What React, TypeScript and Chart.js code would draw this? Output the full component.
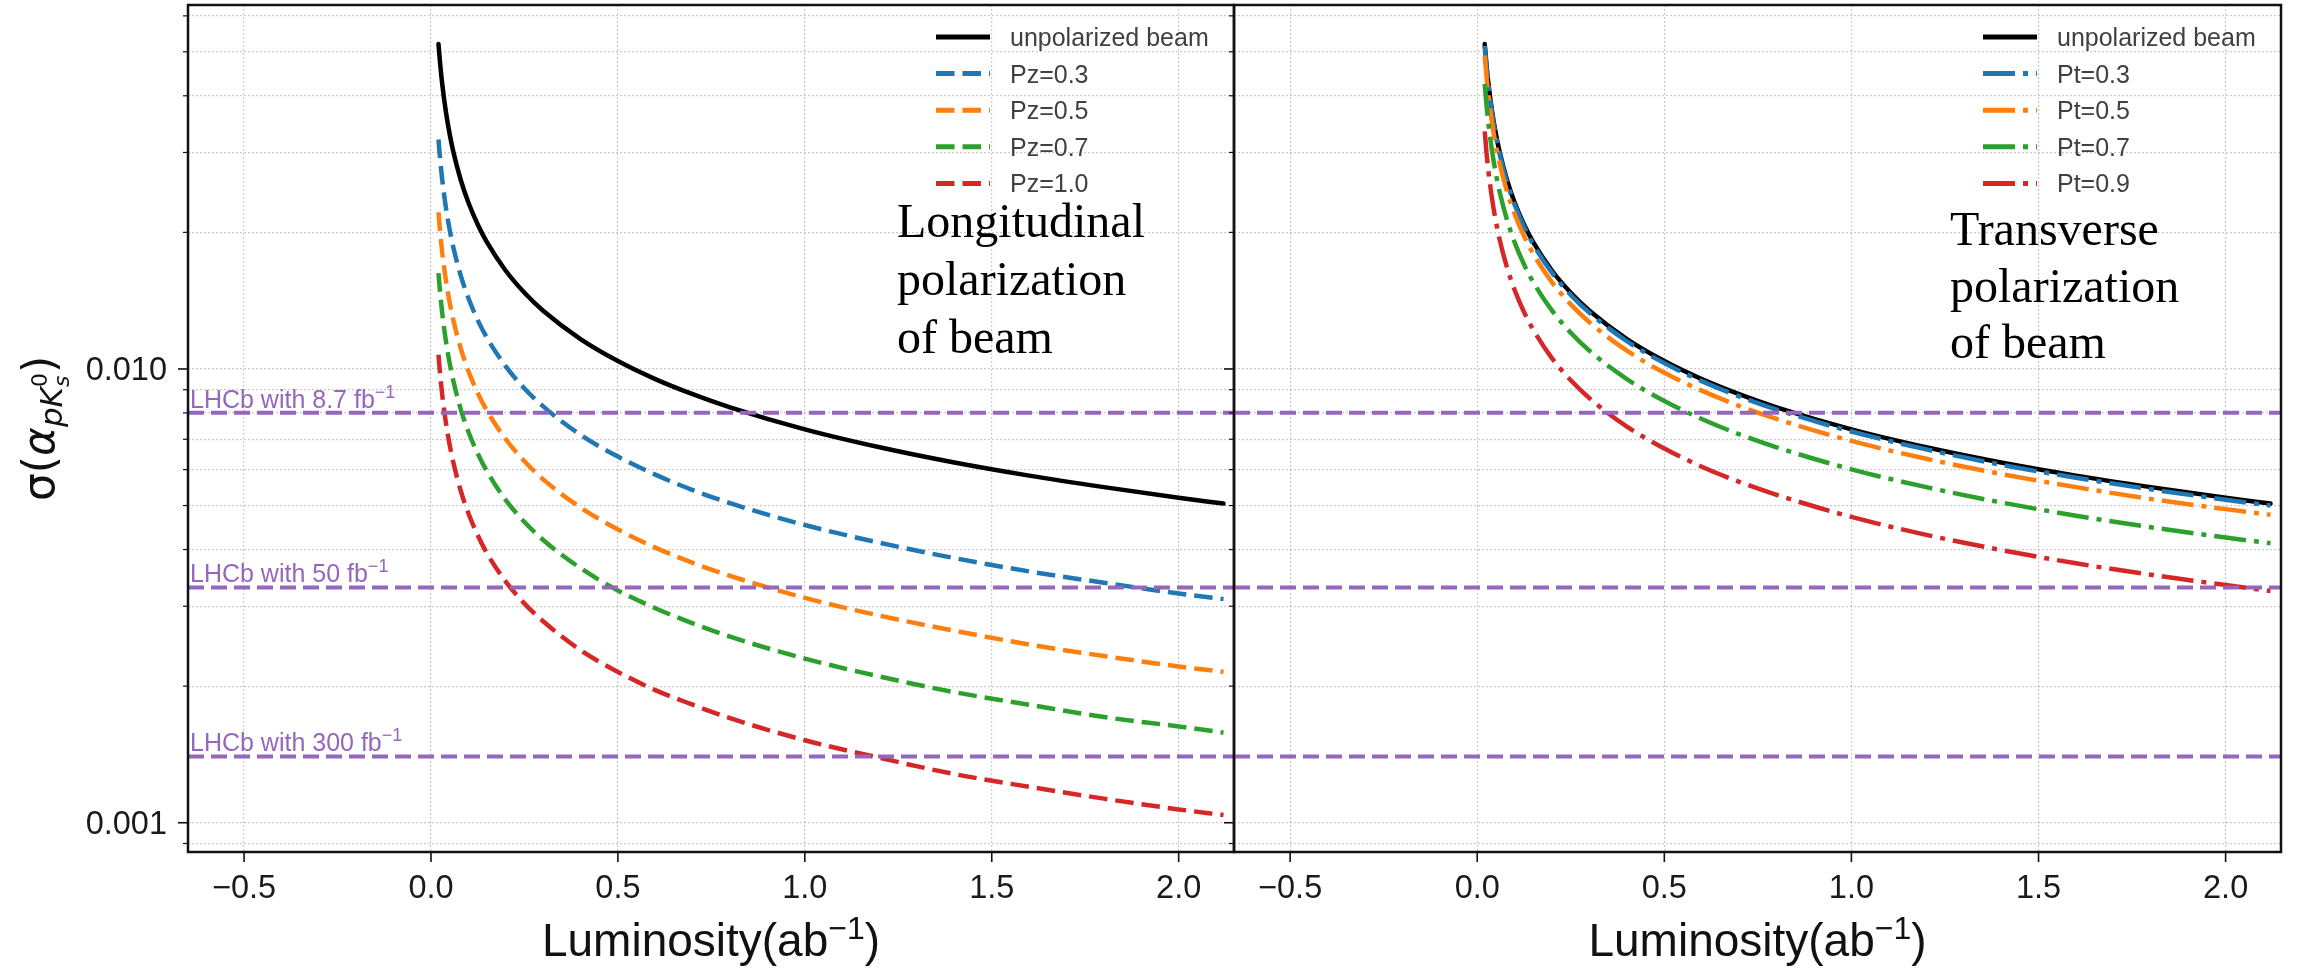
import React, { useEffect, useRef } from "react";
import { Chart, registerables } from "chart.js";

Chart.register(...registerables);

// ---------------- data ----------------
const luminosity = [0.02, 0.025, 0.03, 0.04, 0.05, 0.06, 0.08, 0.1, 0.125, 0.15, 0.2, 0.25, 0.3, 0.4, 0.5, 0.6, 0.7, 0.8, 1.0, 1.2, 1.4, 1.6, 1.8, 2.0, 2.12];

const unpolarized = [0.052, 0.04655, 0.04249, 0.0368, 0.03291, 0.03005, 0.02602, 0.02327, 0.02082, 0.019, 0.01646, 0.01472, 0.01344, 0.01164, 0.01041, 0.0095, 0.0088, 0.00823, 0.00736, 0.00672, 0.00622, 0.00582, 0.00549, 0.0052, 0.00505];

const pz03 = [0.03203, 0.02865, 0.02615, 0.02265, 0.02026, 0.01849, 0.01602, 0.01433, 0.01281, 0.0117, 0.01013, 0.00906, 0.00827, 0.00716, 0.00641, 0.00585, 0.00541, 0.00506, 0.00453, 0.00414, 0.00383, 0.00358, 0.00338, 0.0032, 0.00311];
const pz05 = [0.02213, 0.0198, 0.01807, 0.01565, 0.014, 0.01278, 0.01107, 0.0099, 0.00885, 0.00808, 0.007, 0.00626, 0.00571, 0.00495, 0.00443, 0.00404, 0.00374, 0.0035, 0.00313, 0.00286, 0.00265, 0.00247, 0.00233, 0.00221, 0.00215];
const pz07 = [0.01626, 0.01455, 0.01328, 0.0115, 0.01029, 0.00939, 0.00813, 0.00727, 0.00651, 0.00594, 0.00514, 0.0046, 0.0042, 0.00364, 0.00325, 0.00297, 0.00275, 0.00257, 0.0023, 0.0021, 0.00194, 0.00182, 0.00171, 0.00163, 0.00158];
const pz10 = [0.01075, 0.00961, 0.00878, 0.0076, 0.0068, 0.00621, 0.00537, 0.00481, 0.0043, 0.00392, 0.0034, 0.00304, 0.00278, 0.0024, 0.00215, 0.00196, 0.00182, 0.0017, 0.00152, 0.00139, 0.00128, 0.0012, 0.00113, 0.00107, 0.00104];

const pt03 = [0.05148, 0.04604, 0.04203, 0.0364, 0.03256, 0.02972, 0.02574, 0.02302, 0.02059, 0.0188, 0.01628, 0.01456, 0.01329, 0.01151, 0.0103, 0.0094, 0.0087, 0.00814, 0.00728, 0.00665, 0.00615, 0.00576, 0.00543, 0.00515, 0.005];
const pt05 = [0.04907, 0.04389, 0.04007, 0.0347, 0.03104, 0.02833, 0.02454, 0.02195, 0.01963, 0.01792, 0.01552, 0.01388, 0.01267, 0.01097, 0.00981, 0.00896, 0.00829, 0.00776, 0.00694, 0.00634, 0.00587, 0.00549, 0.00517, 0.00491, 0.00477];
const pt07 = [0.0425, 0.03801, 0.0347, 0.03005, 0.02688, 0.02454, 0.02125, 0.01901, 0.017, 0.01552, 0.01344, 0.01202, 0.01097, 0.0095, 0.0085, 0.00776, 0.00718, 0.00672, 0.00601, 0.00549, 0.00508, 0.00475, 0.00448, 0.00425, 0.00413];
const pt09 = [0.03338, 0.02985, 0.02725, 0.0236, 0.02111, 0.01927, 0.01669, 0.01493, 0.01335, 0.01219, 0.01055, 0.00944, 0.00862, 0.00746, 0.00668, 0.00609, 0.00564, 0.00528, 0.00472, 0.00431, 0.00399, 0.00373, 0.00352, 0.00334, 0.00324];

const lhcbSigma = [0.00801, 0.0033, 0.0014];
const lhcbLumi = ["8.7", "50", "300"];

const xTicks = [-0.5, 0, 0.5, 1, 1.5, 2];
const xTickLabels = ["\u22120.5", "0.0", "0.5", "1.0", "1.5", "2.0"];
const yGridTicks = [0.0009, 0.001, 0.002, 0.003, 0.004, 0.005, 0.006, 0.007, 0.008, 0.009, 0.01, 0.02, 0.03, 0.04, 0.05, 0.06];
const yLabelTicks = [0.001, 0.01];
const yTickLabels = ["0.001", "0.010"];

const leftLabels = ["unpolarized beam", "Pz=0.3", "Pz=0.5", "Pz=0.7", "Pz=1.0"];
const rightLabels = ["unpolarized beam", "Pt=0.3", "Pt=0.5", "Pt=0.7", "Pt=0.9"];
const leftNote = ["Longitudinal", "polarization", "of beam"];
const rightNote = ["Transverse", "polarization", "of beam"];

const X_MIN = -0.65;
const X_MAX = 2.148;
const Y_MIN = 0.000862;
const Y_MAX = 0.0634;

// ---------------- styles ----------------
const COLORS = ["#000000", "#1f77b4", "#ff7f0e", "#2ca02c", "#d62728"];
const PURPLE = "#9467bd";
const GRID = "rgba(150,150,150,0.5)";
const DASHED = [18.5, 8];
const DASHDOT = [32, 8, 5, 8];
const LW = 4.5;
const SANS = '"DejaVu Sans", sans-serif';
const ARIAL = '"Liberation Sans", Arial, sans-serif';
const SERIF = '"Liberation Serif", "Times New Roman", serif';

type Part = { t: string; font: string; dy?: number; hold?: boolean };

function drawRich(ctx: CanvasRenderingContext2D, parts: Part[], x: number, y: number, align: "left" | "center") {
  const widths = parts.map((p) => {
    ctx.font = p.font;
    return ctx.measureText(p.t).width;
  });
  let total = 0;
  let held = 0;
  parts.forEach((p, i) => {
    if (p.hold) held = widths[i];
    else {
      total += Math.max(widths[i], held);
      held = 0;
    }
  });
  let cx = align === "center" ? x - total / 2 : x;
  held = 0;
  ctx.textAlign = "left";
  ctx.textBaseline = "alphabetic";
  parts.forEach((p, i) => {
    ctx.font = p.font;
    ctx.fillText(p.t, cx, y + (p.dy || 0));
    if (p.hold) held = widths[i];
    else {
      cx += Math.max(widths[i], held);
      held = 0;
    }
  });
}

type PanelSpec = {
  series: number[][];
  labels: string[];
  dash: number[];
  note: string[];
  noteDx: number;
  noteBase: number[];
  showYLabels: boolean;
  yAxisWidth: number;
  padRight: number;
};

const leftSpec: PanelSpec = {
  series: [unpolarized, pz03, pz05, pz07, pz10],
  labels: leftLabels,
  dash: DASHED,
  note: leftNote,
  noteDx: 709,
  noteBase: [232, 290, 348],
  showYLabels: true,
  yAxisWidth: 188,
  padRight: 6,
};

const rightSpec: PanelSpec = {
  series: [unpolarized, pt03, pt05, pt07, pt09],
  labels: rightLabels,
  dash: DASHDOT,
  note: rightNote,
  noteDx: 716,
  noteBase: [240, 297, 353],
  showYLabels: false,
  yAxisWidth: 10,
  padRight: 21,
};

function overlay(spec: PanelSpec) {
  return {
    id: "overlay",
    afterDraw(chart: any) {
      const ctx: CanvasRenderingContext2D = chart.ctx;
      const a = chart.chartArea;
      const xs = chart.scales.x;
      const ys = chart.scales.y;
      ctx.save();
      ctx.setLineDash([]);
      ctx.strokeStyle = "#111";
      ctx.lineWidth = 2.5;
      ctx.strokeRect(a.left, a.top, a.right - a.left, a.bottom - a.top);

      // x ticks + labels
      ctx.fillStyle = "#1a1a1a";
      xTicks.forEach((v, i) => {
        const px = xs.getPixelForValue(v);
        ctx.lineWidth = 1.6;
        ctx.beginPath();
        ctx.moveTo(px, a.bottom);
        ctx.lineTo(px, a.bottom + 10);
        ctx.stroke();
        ctx.font = `32.5px ${ARIAL}`;
        ctx.textAlign = "center";
        ctx.textBaseline = "alphabetic";
        ctx.fillText(xTickLabels[i], px, a.bottom + 46);
      });

      // y ticks
      yGridTicks.forEach((v) => {
        const py = ys.getPixelForValue(v);
        const major = yLabelTicks.includes(v);
        const len = major ? 10 : 5;
        ctx.lineWidth = major ? 1.6 : 1.2;
        ctx.beginPath();
        ctx.moveTo(a.left - len, py);
        ctx.lineTo(a.left, py);
        ctx.stroke();
      });

      // x title
      ctx.fillStyle = "#111";
      drawRich(
        ctx,
        [
          { t: "Luminosity(ab", font: `46px ${ARIAL}` },
          { t: "\u22121", font: `32px ${ARIAL}`, dy: -17 },
          { t: ")", font: `46px ${ARIAL}` },
        ],
        (a.left + a.right) / 2,
        956,
        "center"
      );

      if (spec.showYLabels) {
        ctx.fillStyle = "#1a1a1a";
        yLabelTicks.forEach((v, i) => {
          const py = ys.getPixelForValue(v);
          ctx.font = `32.5px ${ARIAL}`;
          ctx.textAlign = "right";
          ctx.textBaseline = "alphabetic";
          ctx.fillText(yTickLabels[i], a.left - 21, py + 11.5);
        });
        // y title (rotated)
        ctx.save();
        ctx.translate(54, (a.top + a.bottom) / 2);
        ctx.rotate(-Math.PI / 2);
        ctx.fillStyle = "#111";
        drawRich(
          ctx,
          [
            { t: "\u03c3", font: `44px ${SANS}` },
            { t: "(", font: `44px ${SANS}` },
            { t: "\u03b1", font: `italic 44px ${SANS}` },
            { t: "pK", font: `italic 31px ${SANS}`, dy: 8 },
            { t: "s", font: `italic 22px ${SANS}`, dy: 15, hold: true },
            { t: "0", font: `22px ${SANS}`, dy: -7 },
            { t: ")", font: `44px ${SANS}` },
          ],
          0,
          0,
          "center"
        );
        ctx.restore();
        // LHCb labels
        ctx.fillStyle = PURPLE;
        lhcbSigma.forEach((s, i) => {
          const py = ys.getPixelForValue(s);
          drawRich(
            ctx,
            [
              { t: `LHCb with ${lhcbLumi[i]} fb`, font: `25px ${ARIAL}` },
              { t: "\u22121", font: `18px ${ARIAL}`, dy: -10 },
            ],
            a.left + 2,
            py - 5,
            "left"
          );
        });
      }

      // legend
      spec.labels.forEach((lab, i) => {
        const base = a.top + 41 + i * 36.6;
        const ly = base - 9;
        ctx.save();
        ctx.strokeStyle = COLORS[i];
        ctx.lineWidth = 5;
        ctx.lineCap = "butt";
        ctx.setLineDash(i === 0 ? [] : spec.dash);
        ctx.beginPath();
        ctx.moveTo(a.right - 298, ly);
        ctx.lineTo(a.right - 244, ly);
        ctx.stroke();
        ctx.restore();
        ctx.fillStyle = "#404040";
        ctx.font = `25px ${ARIAL}`;
        ctx.textAlign = "left";
        ctx.textBaseline = "alphabetic";
        ctx.fillText(lab, a.right - 224, base);
      });

      // annotation
      ctx.fillStyle = "#000";
      ctx.font = `48px ${SERIF}`;
      ctx.textAlign = "left";
      ctx.textBaseline = "alphabetic";
      spec.note.forEach((line, i) => {
        ctx.fillText(line, a.left + spec.noteDx, a.top + spec.noteBase[i]);
      });
      ctx.restore();
    },
  };
}

function makeConfig(spec: PanelSpec): any {
  const hlines = lhcbSigma.map((s) => ({
    data: [
      { x: X_MIN, y: s },
      { x: X_MAX, y: s },
    ],
    borderColor: PURPLE,
    borderWidth: 4,
    borderDash: [16, 7],
    pointRadius: 0,
    fill: false,
    tension: 0,
  }));
  const curves = [4, 3, 2, 1, 0].map((i) => ({
    data: luminosity.map((l, j) => ({ x: l, y: spec.series[i][j] })),
    borderColor: COLORS[i],
    borderWidth: LW,
    borderDash: i === 0 ? [] : spec.dash,
    borderCapStyle: i === 0 ? "round" : "butt",
    pointRadius: 0,
    fill: false,
    cubicInterpolationMode: "monotone",
  }));
  return {
    type: "line",
    data: { datasets: [...hlines, ...curves] },
    options: {
      animation: false,
      responsive: false,
      devicePixelRatio: 1,
      events: [],
      layout: { padding: { top: 5, right: spec.padRight, left: 0, bottom: 0 } },
      plugins: { legend: { display: false }, tooltip: { enabled: false } },
      scales: {
        x: {
          type: "linear",
          min: X_MIN,
          max: X_MAX,
          afterBuildTicks: (s: any) => {
            s.ticks = xTicks.map((v) => ({ value: v }));
          },
          afterFit: (s: any) => {
            s.height = 116;
          },
          ticks: { display: false },
          grid: { color: GRID, lineWidth: 1.2, drawTicks: false },
          border: { display: false, dash: [2, 2] },
        },
        y: {
          type: "logarithmic",
          min: Y_MIN,
          max: Y_MAX,
          afterBuildTicks: (s: any) => {
            s.ticks = yGridTicks.map((v) => ({ value: v }));
          },
          afterFit: (s: any) => {
            s.width = spec.yAxisWidth;
          },
          ticks: { display: false },
          grid: { color: GRID, lineWidth: 1.2, drawTicks: false },
          border: { display: false, dash: [2, 2] },
        },
      },
    },
    plugins: [overlay(spec)],
  };
}

export default function App() {
  const leftRef = useRef<HTMLCanvasElement>(null);
  const rightRef = useRef<HTMLCanvasElement>(null);
  useEffect(() => {
    const c1 = new Chart(leftRef.current as HTMLCanvasElement, makeConfig(leftSpec));
    const c2 = new Chart(rightRef.current as HTMLCanvasElement, makeConfig(rightSpec));
    return () => {
      c1.destroy();
      c2.destroy();
    };
  }, []);
  return (
    <div style={{ position: "absolute", left: 0, top: 0, width: 2302, height: 968, background: "#fff", overflow: "hidden" }}>
      <canvas ref={leftRef} width={1240} height={968} style={{ position: "absolute", left: 0, top: 0, width: 1240, height: 968 }} />
      <canvas ref={rightRef} width={1078} height={968} style={{ position: "absolute", left: 1224, top: 0, width: 1078, height: 968 }} />
    </div>
  );
}
